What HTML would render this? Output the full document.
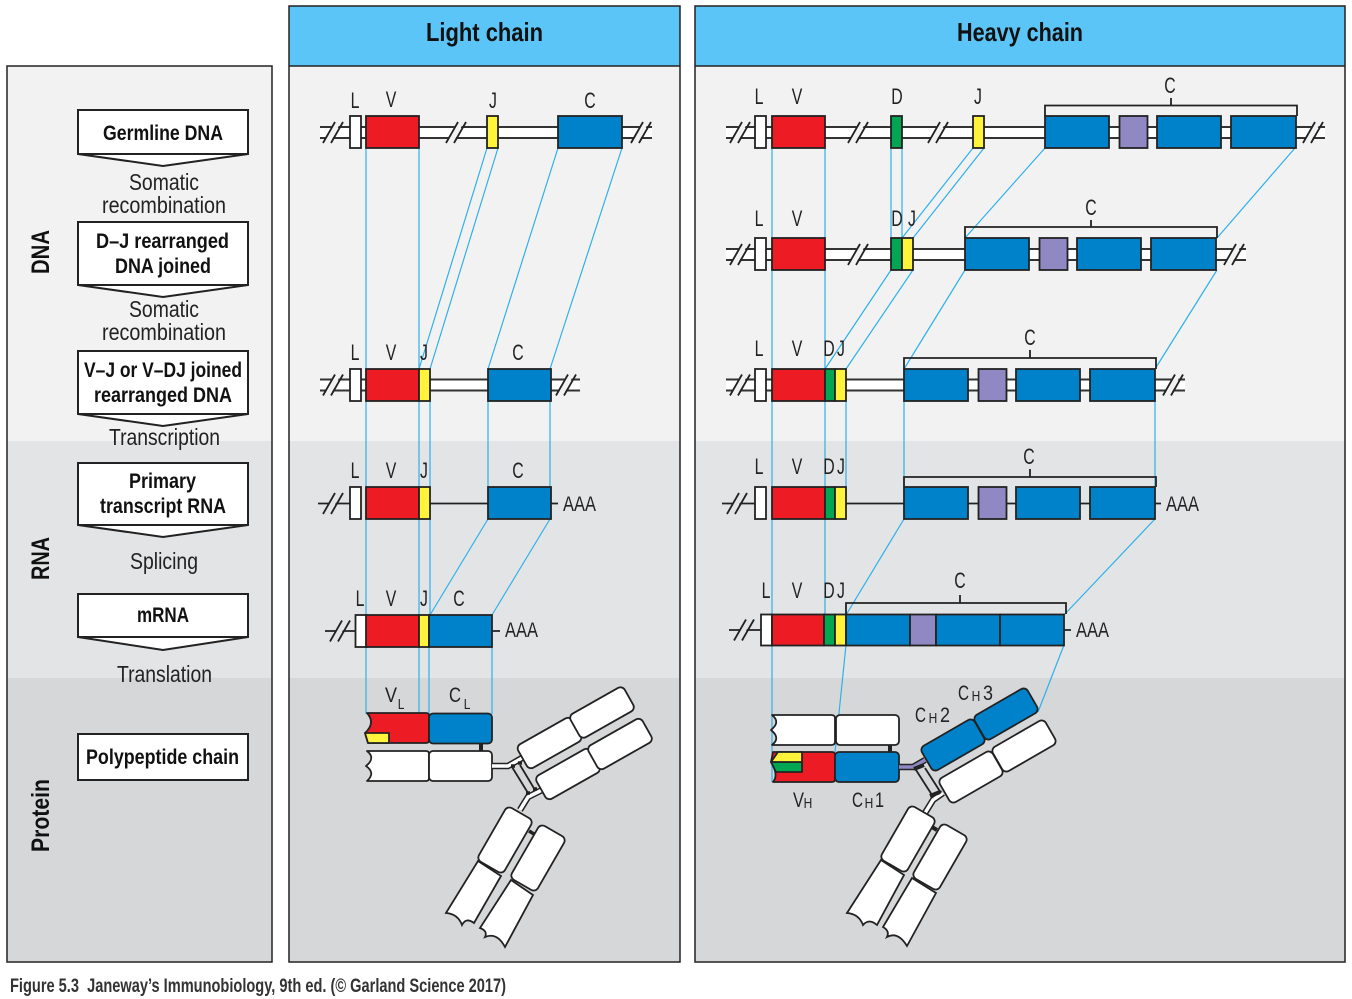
<!DOCTYPE html>
<html><head><meta charset="utf-8"><title>Figure 5.3</title>
<style>
html,body{margin:0;padding:0;background:#fff}
svg{display:block}
text{font-family:"Liberation Sans Narrow","Liberation Sans",sans-serif;fill:#222}
.b{font-weight:700;fill:#111}
.l{font-size:22px;text-anchor:middle;transform-box:fill-box;transform-origin:center;transform:scaleX(.72)}
.s{font-size:15px;text-anchor:middle;transform-box:fill-box;transform-origin:center;transform:scaleX(.8)}
.bx{fill:#fff;stroke:#222;stroke-width:2}
.c{stroke:#2fb0ea;stroke-width:1.2;fill:none}
.o{stroke:#333;stroke-width:13;fill:none}
.i{stroke:#fff;stroke-width:9;fill:none}
.g{stroke:#222;stroke-width:1.8;fill:none}
.e{stroke:#222;stroke-width:1.8}
.w{fill:#fff}.r{fill:#ed1c24}.u{fill:#0082ca}.y{fill:#fff33b}.n{fill:#00a651}.p{fill:#8f88c2}
</style></head><body>
<svg width="1352" height="999" viewBox="0 0 1352 999" xmlns="http://www.w3.org/2000/svg">
<defs>
<g id="s"><line x1="0" y1="10.5" x2="12" y2="-10.5" class="g"/><line x1="8" y1="10.5" x2="20" y2="-10.5" class="g"/></g>
<g id="b1"><polygon points="2,7 9,-7 16,-7 9,7" fill="#f2f2f2"/><use href="#s"/></g>
<g id="b2"><polygon points="2,6 9,-6 16,-6 9,6" fill="#e3e4e5"/><use href="#s"/></g>
<g id="cb">
<rect x="0" y="-16" width="64" height="32" class="u e"/><rect x="74.500" y="-16" width="28" height="32" class="p e"/><rect x="112" y="-16" width="64" height="32" class="u e"/><rect x="186" y="-16" width="65" height="32" class="u e"/>
</g>
</defs>
<rect width="1352" height="999" fill="#fff"/>

<!-- panels -->
<g>
<rect x="7" y="66" width="265" height="375" fill="#f2f2f2"/><rect x="7" y="441" width="265" height="237" fill="#e3e4e5"/><rect x="7" y="678" width="265" height="284" fill="#d6d7d9"/>
<rect x="289" y="66" width="391" height="375" fill="#f2f2f2"/><rect x="289" y="441" width="391" height="237" fill="#e3e4e5"/><rect x="289" y="678" width="391" height="284" fill="#d6d7d9"/>
<rect x="695" y="66" width="650" height="375" fill="#f2f2f2"/><rect x="695" y="441" width="650" height="237" fill="#e3e4e5"/><rect x="695" y="678" width="650" height="284" fill="#d6d7d9"/>
<rect x="289" y="6" width="391" height="60" fill="#5bc5f7"/><rect x="695" y="6" width="650" height="60" fill="#5bc5f7"/>
<g fill="none" stroke="#222" stroke-width="1.5">
<rect x="7" y="66" width="265" height="896"/><rect x="289" y="6" width="391" height="956"/><rect x="695" y="6" width="650" height="956"/>
<path d="M289 66H680M695 66H1345"/></g>
</g>
<text x="426" y="41" class="b" font-size="26" textLength="117" lengthAdjust="spacingAndGlyphs">Light chain</text>
<text x="957" y="41" class="b" font-size="26" textLength="126" lengthAdjust="spacingAndGlyphs">Heavy chain</text>

<!-- left column -->
<g>
<polygon points="78,110 248,110 248,154 163,166 78,154" class="bx"/><line x1="78" y1="154" x2="248" y2="154" stroke="#222" stroke-width="2"/>
<polygon points="78,222 248,222 248,285 163,297 78,285" class="bx"/><line x1="78" y1="285" x2="248" y2="285" stroke="#222" stroke-width="2"/>
<polygon points="78,351 248,351 248,414 163,426 78,414" class="bx"/><line x1="78" y1="414" x2="248" y2="414" stroke="#222" stroke-width="2"/>
<polygon points="78,463 248,463 248,525 163,537 78,525" class="bx"/><line x1="78" y1="525" x2="248" y2="525" stroke="#222" stroke-width="2"/>
<polygon points="78,594 248,594 248,637 163,650 78,637" class="bx"/><line x1="78" y1="637" x2="248" y2="637" stroke="#222" stroke-width="2"/>
<rect x="78" y="734" width="170" height="46" class="bx"/>
</g>
<g font-size="21">
<text x="103" y="140" class="b" font-size="21" textLength="120" lengthAdjust="spacingAndGlyphs">Germline DNA</text>
<text x="96" y="248" class="b" font-size="21" textLength="133" lengthAdjust="spacingAndGlyphs">D–J rearranged</text>
<text x="115" y="273" class="b" font-size="21" textLength="96" lengthAdjust="spacingAndGlyphs">DNA joined</text>
<text x="84" y="377" class="b" font-size="21" textLength="158" lengthAdjust="spacingAndGlyphs">V–J or V–DJ joined</text>
<text x="94" y="402" class="b" font-size="21" textLength="138" lengthAdjust="spacingAndGlyphs">rearranged DNA</text>
<text x="129" y="488" class="b" font-size="21" textLength="67" lengthAdjust="spacingAndGlyphs">Primary</text>
<text x="100" y="513" class="b" font-size="21" textLength="126" lengthAdjust="spacingAndGlyphs">transcript RNA</text>
<text x="137" y="622" class="b" font-size="21" textLength="52" lengthAdjust="spacingAndGlyphs">mRNA</text>
<text x="86" y="764" class="b" font-size="21" textLength="153" lengthAdjust="spacingAndGlyphs">Polypeptide chain</text>
</g>
<g font-size="23">
<text x="129" y="190" font-size="23" textLength="70" lengthAdjust="spacingAndGlyphs">Somatic</text>
<text x="102" y="213" font-size="23" textLength="124" lengthAdjust="spacingAndGlyphs">recombination</text>
<text x="129" y="317" font-size="23" textLength="70" lengthAdjust="spacingAndGlyphs">Somatic</text>
<text x="102" y="340" font-size="23" textLength="124" lengthAdjust="spacingAndGlyphs">recombination</text>
<text x="109" y="445" font-size="23" textLength="111" lengthAdjust="spacingAndGlyphs">Transcription</text>
<text x="130" y="569" font-size="23" textLength="68" lengthAdjust="spacingAndGlyphs">Splicing</text>
<text x="117" y="682" font-size="23" textLength="95" lengthAdjust="spacingAndGlyphs">Translation</text>
</g>
<text transform="translate(49,274) rotate(-90)" class="b" font-size="25" textLength="44" lengthAdjust="spacingAndGlyphs">DNA</text>
<text transform="translate(49,580) rotate(-90)" class="b" font-size="25" textLength="43" lengthAdjust="spacingAndGlyphs">RNA</text>
<text transform="translate(49,852) rotate(-90)" class="b" font-size="25" textLength="73" lengthAdjust="spacingAndGlyphs">Protein</text>

<!-- connectors -->
<path class="c" d="M366 148V714M419 148V369M419 401V714M430 369V615M429 647V714
M487 148L419 369M498 148L430 369M558 148L488 369M622 148L550 369
M488 401V487M550 401V487M488 519L430 615M550 519L492 615M492 647V714"/>
<path class="c" d="M772 148V782M825 148V238M825 270V615M891 148V238M902 148V238
M973 148L902 238M984 148L913 238M1045 148L965 238M1295 148L1217 238
M891 270L825 369M913 270L846 369M965 270L904 369M1217 270L1155 369
M846 401V487M904 401V487M1155 401V487M904 519L846 615M1155 519L1064 615
M846 645L835 752M1064 645L1038 712"/>

<!-- LIGHT row 1 -->
<path class="o" d="M320 132.500H652"/><path class="i" d="M320 132.500H652"/>
<use href="#b1" x="323" y="132.500"/><use href="#b1" x="446" y="132.500"/><use href="#b1" x="631" y="132.500"/>
<rect x="350" y="116" width="11" height="32" class="w e"/><rect x="366" y="116" width="53" height="32" class="r e"/><rect x="487" y="116" width="11" height="32" class="y e"/><rect x="558" y="116" width="64" height="32" class="u e"/>
<!-- LIGHT row 3 -->
<path class="o" d="M320 385H580"/><path class="i" d="M320 385H580"/>
<use href="#b1" x="323" y="385"/><use href="#b1" x="556" y="385"/>
<rect x="350" y="369" width="11" height="32" class="w e"/><rect x="366" y="369" width="53" height="32" class="r e"/><rect x="419" y="369" width="11" height="32" class="y e"/><rect x="488" y="369" width="63" height="32" class="u e"/>
<!-- LIGHT row 4 -->
<path class="g" d="M318 503.500H350M430 503.500H488M551 503.500H558"/><use href="#b2" x="323" y="503.500"/>
<rect x="350" y="487" width="11" height="32" class="w e"/><rect x="366" y="487" width="53" height="32" class="r e"/><rect x="419" y="487" width="11" height="32" class="y e"/><rect x="488" y="487" width="63" height="32" class="u e"/>
<text x="563" y="511" font-size="21" textLength="33" lengthAdjust="spacingAndGlyphs">AAA</text>
<!-- LIGHT row 5 -->
<path class="g" d="M325 631H356M492 631H500"/><use href="#b2" x="330" y="631"/>
<rect x="355.500" y="615" width="11" height="32" class="w e"/><rect x="366" y="615" width="53" height="32" class="r e"/><rect x="419" y="615" width="10" height="32" class="y e"/><rect x="429" y="615" width="63" height="32" class="u e"/>
<text x="505" y="637" font-size="21" textLength="33" lengthAdjust="spacingAndGlyphs">AAA</text>

<!-- HEAVY row 1 -->
<path class="o" d="M726 132.500H1325"/><path class="i" d="M726 132.500H1325"/>
<use href="#b1" x="730" y="132.500"/><use href="#b1" x="848" y="132.500"/><use href="#b1" x="928" y="132.500"/><use href="#b1" x="1303" y="132.500"/>
<rect x="755" y="116" width="11" height="32" class="w e"/><rect x="772" y="116" width="53" height="32" class="r e"/><rect x="891" y="116" width="11" height="32" class="n e"/><rect x="973" y="116" width="11" height="32" class="y e"/>
<use href="#cb" x="1045" y="132"/>
<path class="g" d="M1045 116V105.500H1297V116M1171 105.500V98"/>
<!-- HEAVY row 2 -->
<path class="o" d="M726 254.500H1246"/><path class="i" d="M726 254.500H1246"/>
<use href="#b1" x="730" y="254.500"/><use href="#b1" x="848" y="254.500"/><use href="#b1" x="1224" y="254.500"/>
<rect x="755" y="238" width="11" height="32" class="w e"/><rect x="772" y="238" width="53" height="32" class="r e"/><rect x="891" y="238" width="11" height="32" class="n e"/><rect x="902" y="238" width="11" height="32" class="y e"/>
<use href="#cb" x="965" y="254"/>
<path class="g" d="M965 238V227H1217V238M1091 227V220"/>
<!-- HEAVY row 3 -->
<path class="o" d="M726 385H1185"/><path class="i" d="M726 385H1185"/>
<use href="#b1" x="730" y="385"/><use href="#b1" x="1163" y="385"/>
<rect x="755" y="369" width="11" height="32" class="w e"/><rect x="772" y="369" width="53" height="32" class="r e"/><rect x="825" y="369" width="10" height="32" class="n e"/><rect x="835" y="369" width="11" height="32" class="y e"/>
<use href="#cb" x="904" y="385"/>
<path class="g" d="M904 369V358H1156V369M1030 358V350"/>
<!-- HEAVY row 4 -->
<path class="g" d="M722 503.500H755M846 503.500H1161"/><use href="#b2" x="727" y="503.500"/>
<rect x="755" y="487" width="11" height="32" class="w e"/><rect x="772" y="487" width="53" height="32" class="r e"/><rect x="825" y="487" width="10" height="32" class="n e"/><rect x="835" y="487" width="11" height="32" class="y e"/>
<use href="#cb" x="904" y="503"/>
<path class="g" d="M904 487V477H1156V487M1030 477V469"/>
<text x="1166" y="511" font-size="21" textLength="33" lengthAdjust="spacingAndGlyphs">AAA</text>
<!-- HEAVY row 5 -->
<path class="g" d="M729 630H761M1064 630H1071"/><use href="#b2" x="734" y="630"/>
<rect x="761" y="614.500" width="11" height="31" class="w e"/><rect x="772" y="614.500" width="52" height="31" class="r e"/><rect x="824" y="614.500" width="11" height="31" class="n e"/><rect x="835" y="614.500" width="11" height="31" class="y e"/>
<rect x="846" y="614.500" width="64" height="31" class="u e"/><rect x="910" y="614.500" width="26" height="31" class="p e"/><rect x="936" y="614.500" width="64" height="31" class="u e"/><rect x="1000" y="614.500" width="64" height="31" class="u e"/>
<path class="g" d="M846 614V603H1066V614M960 603V595"/>
<text x="1076" y="637" font-size="21" textLength="33" lengthAdjust="spacingAndGlyphs">AAA</text>

<!-- gene labels -->
<g class="lab">
<text class="l" x="355" y="108">L</text><text class="l" x="391" y="107">V</text><text class="l" x="493" y="108">J</text><text class="l" x="590" y="108">C</text>
<text class="l" x="355" y="360">L</text><text class="l" x="391" y="360">V</text><text class="l" x="424" y="360">J</text><text class="l" x="518" y="360">C</text>
<text class="l" x="355" y="478">L</text><text class="l" x="391" y="478">V</text><text class="l" x="424" y="478">J</text><text class="l" x="518" y="478">C</text>
<text class="l" x="360" y="606">L</text><text class="l" x="391" y="606">V</text><text class="l" x="424" y="606">J</text><text class="l" x="459" y="606">C</text>
<text class="l" x="759" y="104">L</text><text class="l" x="797" y="104">V</text><text class="l" x="897" y="104">D</text><text class="l" x="978" y="104">J</text><text class="l" x="1170" y="93">C</text>
<text class="l" x="759" y="226">L</text><text class="l" x="797" y="226">V</text><text class="l" x="897" y="226">D</text><text class="l" x="912" y="226">J</text><text class="l" x="1091" y="215">C</text>
<text class="l" x="759" y="356">L</text><text class="l" x="797" y="356">V</text><text class="l" x="829" y="356">D</text><text class="l" x="841" y="356">J</text><text class="l" x="1030" y="345">C</text>
<text class="l" x="759" y="474">L</text><text class="l" x="797" y="474">V</text><text class="l" x="829" y="474">D</text><text class="l" x="841" y="474">J</text><text class="l" x="1029" y="464">C</text>
<text class="l" x="766" y="598">L</text><text class="l" x="797" y="598">V</text><text class="l" x="829" y="598">D</text><text class="l" x="841" y="598">J</text><text class="l" x="960" y="588">C</text>
</g>

<!-- LIGHT protein -->
<g stroke="#222" stroke-width="1.8" stroke-linejoin="round">
<path class="r" d="M367 713H426Q429 713 429 716V740Q429 743 426 743H368L365 733Q376 723 367 713Z"/>
<path class="y" d="M365 733H389V743H368Z"/>
<rect x="429" y="713.500" width="63" height="30" rx="4" class="u"/>
<path class="w" d="M367 751H426Q429 751 429 754V778Q429 781 426 781H367Q376 773 366 766Q376 758 367 751Z"/>
<rect x="429" y="751" width="63" height="30" rx="4" class="w"/>
</g>
<rect x="479" y="743" width="4" height="8" fill="#222"/>
<path class="o" style="stroke-width:6.500;stroke:#222" d="M492 766H508L522 758"/><path class="i" style="stroke-width:3.500" d="M492 766H508L522 758"/>
<path class="o" style="stroke-width:6.500;stroke:#222" d="M520 810L528 797L542 790"/><path class="i" style="stroke-width:3.500" d="M520 810L528 797L542 790"/>
<path class="g" d="M512 767L528 793M520 765L535 790"/>
<path d="M511 766l4 0M518 763l4 0M526 793l4 0M533 789l4 0M529 831l5 3" stroke="#222" stroke-width="3.500" fill="none"/>
<g class="w" stroke="#222" stroke-width="1.800">
<rect x="-31" y="-13.500" width="62" height="27" rx="5" transform="translate(549.500,743) rotate(-29.500)"/>
<rect x="-31" y="-13.500" width="62" height="27" rx="5" transform="translate(602,712.500) rotate(-29.500)"/>
<rect x="-31" y="-13.500" width="62" height="27" rx="5" transform="translate(568,774) rotate(-29.500)"/>
<rect x="-31" y="-13.500" width="62" height="27" rx="5" transform="translate(620,744) rotate(-29.500)"/>
<rect x="-31" y="-15" width="62" height="30" rx="5" transform="translate(505,840) rotate(-60)"/>
<rect x="-31" y="-15" width="62" height="30" rx="5" transform="translate(538,858) rotate(-60)"/>
<path d="M478 861L501 876L474 923Q466 917 462 925Q458 914 446 913Z"/>
<path d="M511 880L533 895L505 947Q497 932 485 937Q488 931 480 928Z"/>
</g>
<text x="385" y="702" font-size="21" textLength="12" lengthAdjust="spacingAndGlyphs">V</text><text class="s" x="401" y="709">L</text>
<text x="449" y="702" font-size="21" textLength="12" lengthAdjust="spacingAndGlyphs">C</text><text class="s" x="467" y="709">L</text>

<!-- HEAVY protein -->
<g stroke="#222" stroke-width="1.8" stroke-linejoin="round">
<path class="w" d="M772 715H831Q835 715 835 718V742Q835 745 831 745H772Q781 738 771 730Q781 722 772 715Z"/>
<rect x="836" y="715" width="63" height="30" rx="4" class="w"/>
<path class="r" d="M773 752H832Q835 752 835 755V779Q835 782 832 782H773Q779 775 771 762Z"/>
<path class="n" d="M771 762H802V772H776Z"/>
<path class="y" d="M778 752H802V762H771Z"/>
<rect x="835" y="752" width="64" height="30" rx="4" class="u"/>
</g>
<rect x="888" y="745" width="4" height="7" fill="#222"/>
<path style="stroke-width:6.500;stroke:#222;fill:none" d="M899 767H913L925 760"/><path style="stroke-width:3.500;stroke:#8f88c2;fill:none" d="M899 767H913L925 760"/>
<path class="o" style="stroke-width:6.500;stroke:#222" d="M925 813L933 800L943 793"/><path class="i" style="stroke-width:3.500" d="M925 813L933 800L943 793"/>
<path class="g" d="M916 770L932 795M925 768L941 793"/>
<path d="M914 769l10 -4M930 796l10 -4M932 827l5 3" stroke="#222" stroke-width="4" fill="none"/>
<g stroke="#222" stroke-width="1.800">
<rect x="-30.500" y="-14" width="61" height="28" rx="5" class="u" transform="translate(953,745) rotate(-30)"/>
<rect x="-30.500" y="-14" width="61" height="28" rx="5" class="u" transform="translate(1006,714) rotate(-30)"/>
<rect x="-30.500" y="-14" width="61" height="28" rx="5" class="w" transform="translate(971,777) rotate(-30)"/>
<rect x="-30.500" y="-14" width="61" height="28" rx="5" class="w" transform="translate(1024,746) rotate(-30)"/>
<rect x="-31" y="-15" width="62" height="30" rx="5" class="w" transform="translate(908,839) rotate(-60)"/>
<rect x="-31" y="-15" width="62" height="30" rx="5" class="w" transform="translate(940,857) rotate(-60)"/>
<path class="w" d="M881 860L904 875L877 925Q869 918 863 925Q859 914 847 913Z"/>
<path class="w" d="M912 878L936 893L907 946Q898 931 887 937Q890 931 883 927Z"/>
</g>
<text x="793" y="807" font-size="21" textLength="11" lengthAdjust="spacingAndGlyphs">V</text><text class="s" x="808" y="808">H</text>
<text x="852" y="807" font-size="21" textLength="11" lengthAdjust="spacingAndGlyphs">C</text><text class="s" x="869" y="808">H</text><text x="875" y="807" font-size="21" textLength="9" lengthAdjust="spacingAndGlyphs">1</text>
<text x="915" y="722" font-size="21" textLength="11" lengthAdjust="spacingAndGlyphs">C</text><text class="s" x="933" y="723">H</text><text x="940" y="722" font-size="21" textLength="10" lengthAdjust="spacingAndGlyphs">2</text>
<text x="958" y="700" font-size="21" textLength="11" lengthAdjust="spacingAndGlyphs">C</text><text class="s" x="976" y="701">H</text><text x="983" y="700" font-size="21" textLength="10" lengthAdjust="spacingAndGlyphs">3</text>

<text x="10" y="992" font-size="19" textLength="496" lengthAdjust="spacingAndGlyphs" style="font-weight:700;fill:#333">Figure 5.3&#160; Janeway’s Immunobiology, 9th ed. (© Garland Science 2017)</text>
</svg>
</body></html>
